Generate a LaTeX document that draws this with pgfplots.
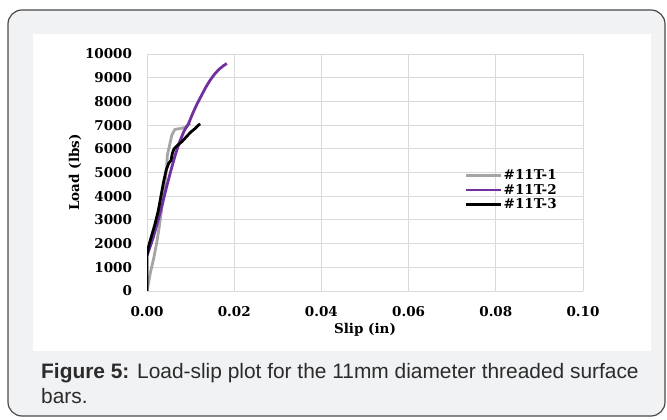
\documentclass[border=0pt]{standalone}
\usepackage{fontspec}
\usepackage{pgfplots}
\pgfplotsset{compat=1.18}
\setmainfont{Liberation Sans}
\newfontfamily\tickfont{DejaVu Serif}
\definecolor{panel}{HTML}{F1F2F4}
\definecolor{frame}{HTML}{4A4A4A}
\definecolor{gridc}{HTML}{D9D9D9}
\definecolor{captxt}{HTML}{2B2B2B}
\definecolor{s1}{HTML}{A5A5A5}
\definecolor{s2}{HTML}{7030A0}

\begin{document}
\begin{tikzpicture}[x=1pt,y=1pt]
\useasboundingbox (0,0) rectangle (667,420);
\fill[panel, draw=frame, line width=1.2pt, rounded corners=14pt] (8,4) rectangle (665,410);
\fill[white] (33,69) rectangle (651,386);

\begin{axis}[
  at={(147pt,129pt)}, anchor=south west,
  scale only axis, width=436pt, height=237pt,
  xmin=0, xmax=0.1, ymin=0, ymax=10000,
  xtick={0,0.02,...,0.1}, ytick={0,1000,...,10000},
  scaled y ticks=false, scaled x ticks=false,
  grid=major, major grid style={gridc, line width=0.8pt},
  axis line style={draw=none},
  major tick length=0pt,
  x tick label style={/pgf/number format/fixed, /pgf/number format/fixed zerofill,
    /pgf/number format/precision=2, yshift=-12pt},
  y tick label style={/pgf/number format/set thousands separator={}, xshift=-11.5pt},
  /pgf/number format/assume math mode=true,
  ticklabel style={font=\tickfont\bfseries\fontsize{13.5}{15}\selectfont},
  xlabel={Slip (in)}, ylabel={Load (lbs)},
  label style={font=\tickfont\bfseries\fontsize{13.5}{15}\selectfont},
  xlabel style={at={(axis description cs:0.5,0)}, anchor=base, yshift=-43pt},
  ylabel style={at={(axis description cs:-0.165,0.5)}, anchor=center},
  legend style={at={(rel axis cs:0.729,0.426)}, anchor=west, draw=none, fill=none,
    font=\tickfont\bfseries\fontsize{13.5}{15}\selectfont, row sep=0pt,
    inner sep=0pt, nodes={inner sep=1.5pt}, cells={anchor=west}},
  legend image code/.code={\draw[#1, line width=2.2pt] (0pt,0pt) -- (35pt,0pt);},
  legend cell align=left,
]
\addplot[s1, line width=2.8pt, line join=round] coordinates {
(0,0) (0.0003,300) (0.0008,800) (0.0015,1350) (0.0022,2000) (0.0028,2700)
(0.0034,3500) (0.0040,4400) (0.0045,5200) (0.00467,5740) (0.0050,6000)
(0.0057,6580) (0.0064,6820) (0.0075,6850) (0.0087,6900) (0.0099,7075)
};
\addplot[s2, line width=2.8pt, line join=round] coordinates {
(0,1500) (0.0005,1750) (0.0015,2300) (0.0025,2950) (0.0035,3650) (0.0045,4400)
(0.0055,5100) (0.0065,5750) (0.0075,6300) (0.0085,6750) (0.0095,7050)
(0.0105,7500) (0.0115,7900) (0.0125,8250) (0.0135,8600) (0.0145,8900)
(0.0155,9150) (0.0165,9350) (0.0175,9500) (0.0183,9600)
};
\addplot[black, line width=2.8pt, line join=round] coordinates {
(0,0) (0,1500) (0.0004,1900) (0.0010,2300) (0.0018,2800) (0.0026,3400)
(0.0032,4000) (0.0038,4600) (0.0044,5100) (0.0050,5400) (0.0055,5500)
(0.0058,5800) (0.0062,6000) (0.0070,6150) (0.0080,6300) (0.0090,6500)
(0.0100,6700) (0.0110,6850) (0.0118,7000) (0.0122,7050)
};
\legend{\#11T-1, \#11T-2, \#11T-3}
\end{axis}

\node[anchor=base west, inner sep=0pt, text=captxt, font=\fontsize{20.9}{24}\selectfont] at (41,41)
  {\textbf{Figure 5:} Load-slip plot for the 11mm diameter threaded surface};
\node[anchor=base west, inner sep=0pt, text=captxt, font=\fontsize{20.9}{24}\selectfont] at (41,16) {bars.};
\end{tikzpicture}
\end{document}
